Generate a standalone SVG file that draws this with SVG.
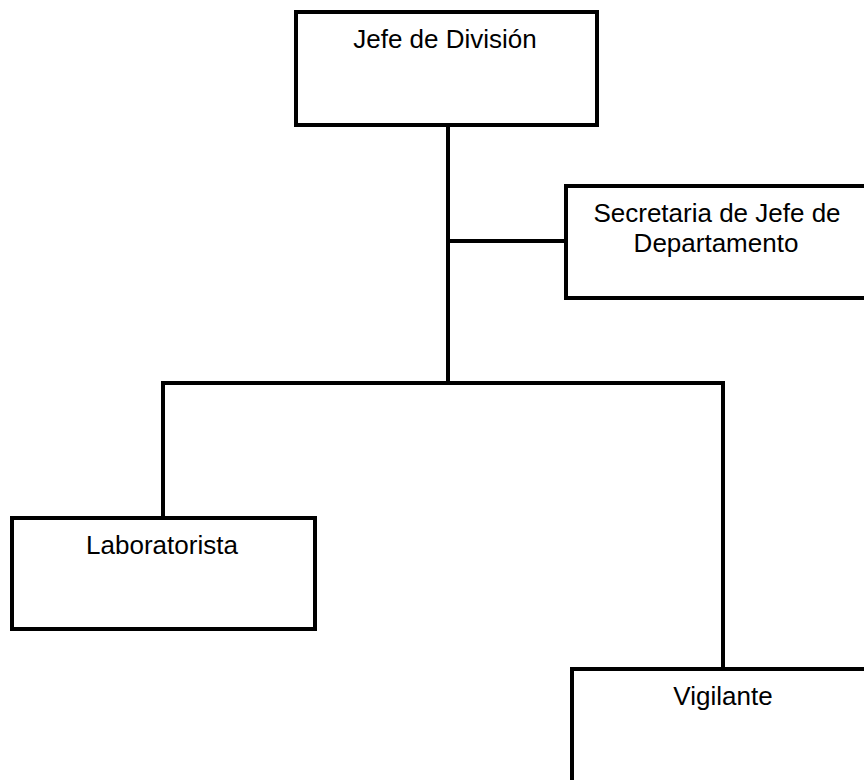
<svg xmlns="http://www.w3.org/2000/svg" width="864" height="780" viewBox="0 0 864 780">
  <style>
    .box { fill: #ffffff; stroke: #000000; stroke-width: 4; }
    .link { fill: none; stroke: #000000; stroke-width: 4; stroke-linejoin: miter; stroke-linecap: square; }
    .label { font-family: "Liberation Sans", Arial, sans-serif; font-size: 26px; fill: #000000; text-anchor: middle; }
  </style>
  <rect width="864" height="780" fill="#ffffff"/>
  <g id="connectors">
    <path class="link" d="M448,125 V381"/>
    <path class="link" d="M448,241 H566"/>
    <path class="link" d="M163,518 V383 H723 V669"/>
  </g>
  <g id="jefe-division">
    <rect class="box" x="296" y="12" width="301" height="113"/>
    <text class="label" x="445" y="48">Jefe de División</text>
  </g>
  <g id="secretaria">
    <rect class="box" x="566" y="186" width="310" height="112"/>
    <text class="label" x="717" y="222">Secretaria de Jefe de</text>
    <text class="label" x="716" y="252">Departamento</text>
  </g>
  <g id="laboratorista">
    <rect class="box" x="12" y="518" width="303" height="111"/>
    <text class="label" x="162" y="554">Laboratorista</text>
  </g>
  <g id="vigilante">
    <rect class="box" x="572" y="669" width="310" height="130"/>
    <text class="label" x="723" y="705">Vigilante</text>
  </g>
</svg>
